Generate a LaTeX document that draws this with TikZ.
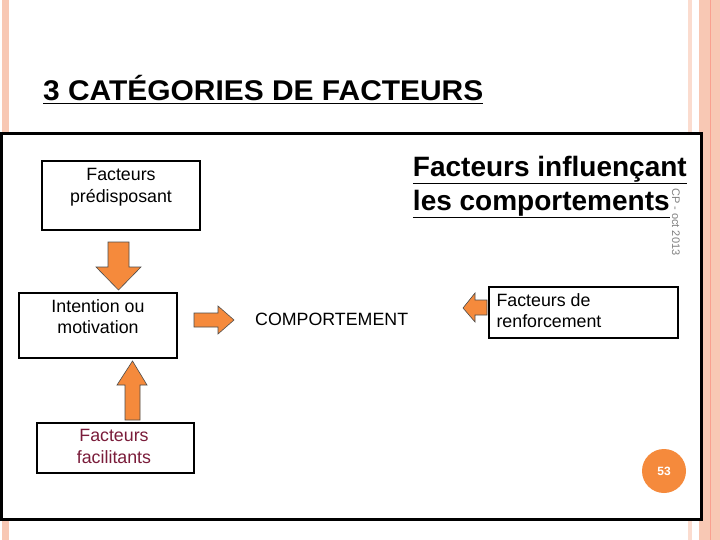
\documentclass[tikz,border=0pt]{standalone}
\usepackage{fontspec}
\setmainfont{Liberation Sans}
\usetikzlibrary{shapes.geometric}
\definecolor{pk}{HTML}{F8C8B4}
\definecolor{pkl}{HTML}{FBDCCF}
\definecolor{org}{HTML}{F58A3C}
\definecolor{dred}{HTML}{7A1C3A}
\tikzset{
  box/.style={draw=black,line width=2.5pt,fill=white},
  lbl/.style={font=\fontsize{17.8}{21.5}\selectfont,align=center},
  barrow/.style={fill=org,draw=black!70,line width=0.6pt}
}
\begin{document}
\begin{tikzpicture}[x=1pt,y=-1pt]
\useasboundingbox (0,0) rectangle (720,540);
\fill[white] (0,0) rectangle (720,540);
% side stripes
\fill[pk] (2,0) rectangle (9,540);
\fill[pkl] (688,0) rectangle (692,540);
\fill[pk] (699,0) rectangle (720,540);
\draw[pk!80!red,line width=1pt] (710,0) -- (710,540);
% title
\node[anchor=base west,font=\bfseries\fontsize{28.5}{30}\selectfont,inner sep=0,xscale=1.05] (title) at (43,101) {\underline{3 CATÉGORIES DE FACTEURS}};
% frame
\draw[line width=3pt,fill=white] (1,134) rectangle (701,519);
% big text
\node[anchor=north east,align=left,font=\bfseries\fontsize{28}{34}\selectfont,inner sep=0] (big) at (687,156) {\underline{Facteurs influençant}\\\underline{les comportements}};
\node[rotate=-90,anchor=west,text=gray,font=\fontsize{11}{13}\selectfont,inner sep=0] (cp) at (676,188) {CP - oct 2013};
% boxes
\draw[box] (42,161) rectangle (200,230);
\node[lbl,anchor=north] (pred) at (121,165) {Facteurs\\prédisposant};
\draw[box] (19,293) rectangle (177,358);
\node[lbl,anchor=north] (int) at (98,296) {Intention ou\\motivation};
\draw[box] (37,423) rectangle (194,473);
\node[lbl,anchor=north,text=dred] (fac) at (114,426) {Facteurs\\facilitants};
\draw[line width=1.5pt,fill=white] (489,287) rectangle (678,338);
\node[lbl,anchor=north west,align=left] (renf) at (493,290) {Facteurs de\\renforcement};
\node[lbl,anchor=base west,inner sep=0] (comp) at (255,325) {COMPORTEMENT};
% block arrows
\draw[barrow] (108,242) -- (129,242) -- (129,267) -- (141,267) -- (118.5,290) -- (96,267) -- (108,267) -- cycle;
\draw[barrow] (125,420) -- (140,420) -- (140,385) -- (147,385) -- (132.5,361) -- (117,385) -- (125,385) -- cycle;
\draw[barrow] (194,313) -- (218,313) -- (218,306) -- (234,320) -- (218,334) -- (218,327) -- (194,327) -- cycle;
\draw[barrow] (487,300) -- (475,300) -- (475,293) -- (463,308) -- (475,322) -- (475,315) -- (487,315) -- cycle;
% page number
\node[circle,fill=org,minimum size=44pt,text=white,font=\bfseries\fontsize{12}{14}\selectfont] (num) at (664,471) {53};
\end{tikzpicture}
\end{document}
